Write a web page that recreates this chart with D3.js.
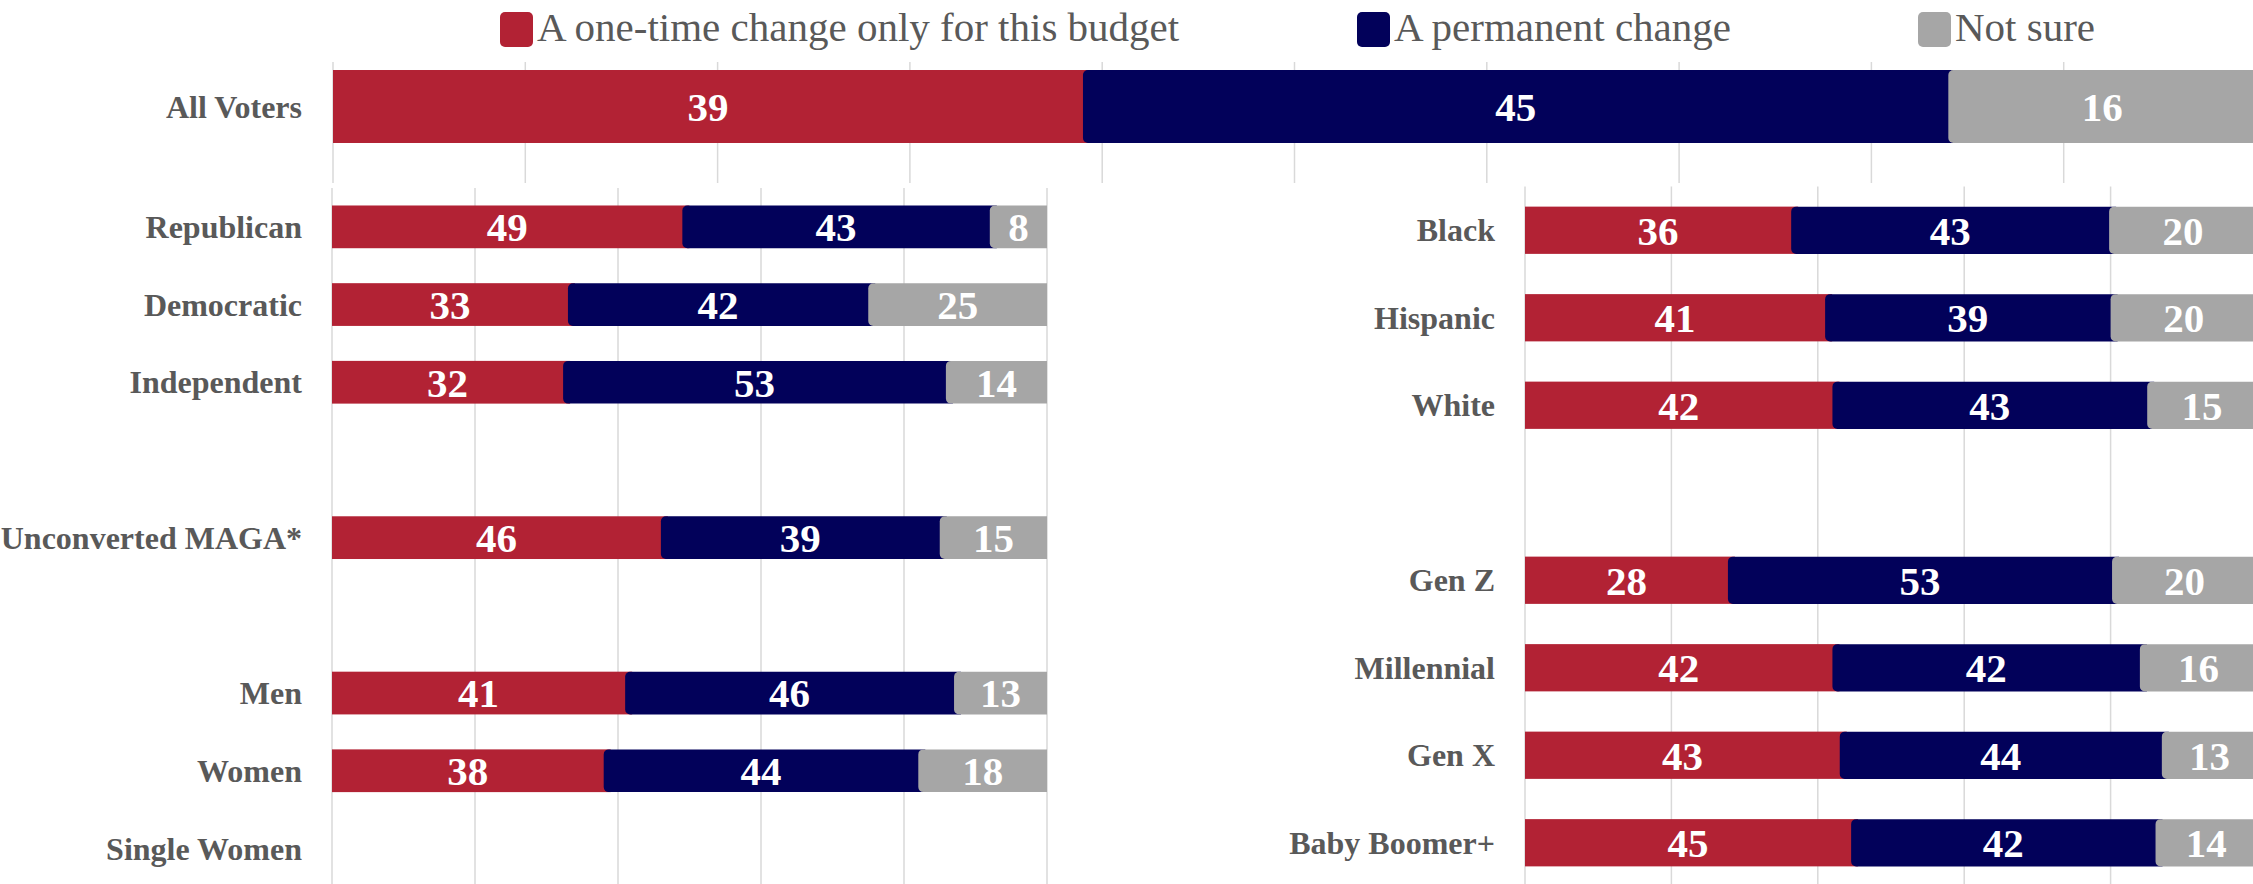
<!DOCTYPE html>
<html>
<head>
<meta charset="utf-8">
<script src="https://cdn.jsdelivr.net/npm/d3@7"></script>
<style>
  html, body { margin: 0; padding: 0; background: #ffffff; }
  svg { display: block; }
</style>
</head>
<body>
<svg id="chart" width="2253" height="884"></svg>
<script>
// ---------------- DATA ----------------
const seriesNames = ["A one-time change only for this budget", "A permanent change", "Not sure"];
const seriesColors = ["#B22234", "#02015A", "#A6A6A6"];

const topCategories = ["All Voters"];
const topOneTime   = [39];
const topPermanent = [45];
const topNotSure   = [16];

const leftCategories = ["Republican", "Democratic", "Independent", "", "Unconverted MAGA*", "", "Men", "Women", "Single Women"];
const leftOneTime    = [49, 33, 32, null, 46, null, 41, 38, null];
const leftPermanent  = [43, 42, 53, null, 39, null, 46, 44, null];
const leftNotSure    = [8, 25, 14, null, 15, null, 13, 18, null];

const rightCategories = ["Black", "Hispanic", "White", "", "Gen Z", "Millennial", "Gen X", "Baby Boomer+"];
const rightOneTime    = [36, 41, 42, null, 28, 42, 43, 45];
const rightPermanent  = [43, 39, 43, null, 53, 42, 44, 42];
const rightNotSure    = [20, 20, 15, null, 20, 16, 13, 14];

const topTicks  = [0, 10, 20, 30, 40, 50, 60, 70, 80, 90, 100];
const lowTicks  = [0, 20, 40, 60, 80, 100];

// ---------------- DRAW ----------------
const svg = d3.select("#chart");
const FONT = "'Liberation Serif', 'Times New Roman', serif";
const LABEL_COLOR = "#595959";
const GRID_COLOR = "#D9D9D9";
const R = 5;

function leftRoundedPath(x, y, w, h, r) {
  r = Math.min(r, w / 2, h / 2);
  return `M${x + r},${y}H${x + w}V${y + h}H${x + r}` +
         `A${r},${r} 0 0 1 ${x},${y + h - r}V${y + r}A${r},${r} 0 0 1 ${x + r},${y}Z`;
}

function panel(opts) {
  const { categories, s1, s2, s3, xRange, yRange, padInner, padOuter, ticks, gridY, labelGap } = opts;
  const x = d3.scaleLinear().domain([0, 100]).range(xRange);
  const y = d3.scaleBand().domain(d3.range(categories.length)).range(yRange)
              .paddingInner(padInner).paddingOuter(padOuter);
  const g = svg.append("g");

  // gridlines
  g.append("g").selectAll("line").data(ticks).join("line")
    .attr("x1", d => x(d)).attr("x2", d => x(d))
    .attr("y1", gridY[0]).attr("y2", gridY[1])
    .attr("stroke", GRID_COLOR).attr("stroke-width", 1.5);

  // category labels via axis
  const axis = d3.axisLeft(y).tickFormat(i => categories[i]).tickSize(0).tickPadding(0);
  const ax = g.append("g").attr("transform", `translate(${xRange[0] - labelGap},0)`).call(axis);
  ax.select(".domain").remove();
  ax.selectAll("text")
    .attr("font-family", FONT).attr("font-weight", "bold")
    .attr("font-size", 32).attr("fill", LABEL_COLOR).attr("dy", "0.35em");

  const series = [s1, s2, s3];
  const rows = categories.map((c, i) => ({ i, vals: series.map(s => s[i]) }))
                         .filter(r => r.vals[0] != null);
  rows.forEach(r => {
    // shares of the row total (rounded labels may not sum to exactly 100)
    const total = d3.sum(r.vals);
    let acc = 0;
    const segs = r.vals.map((v, k) => {
      const share = v / total * 100;
      const s = { k, v, start: acc, end: acc + share }; acc += share; return s;
    });
    const gy = y(r.i), h = y.bandwidth();
    const rg = g.append("g");
    segs.forEach((s, idx) => {
      const x0 = x(s.start);
      const hasNext = idx < segs.length - 1;
      const w = x(s.end) - x0 + (hasNext ? R + 2 : 0);
      if (s.k === 0) {
        rg.append("rect").attr("x", x0).attr("y", gy).attr("width", w).attr("height", h)
          .attr("fill", seriesColors[s.k]);
      } else {
        rg.append("path").attr("d", leftRoundedPath(x0, gy, w, h, R))
          .attr("fill", seriesColors[s.k]);
      }
    });
    segs.forEach(s => {
      rg.append("text")
        .attr("x", (x(s.start) + x(s.end)) / 2)
        .attr("y", gy + h / 2)
        .attr("dy", "0.35em")
        .attr("text-anchor", "middle")
        .attr("font-family", FONT).attr("font-weight", "bold")
        .attr("font-size", 41).attr("fill", "#ffffff")
        .text(s.v);
    });
  });
}

// Top panel: All Voters
panel({
  categories: topCategories, s1: topOneTime, s2: topPermanent, s3: topNotSure,
  xRange: [333, 2256], yRange: [62, 151], padInner: 0.18, padOuter: 0.09,
  ticks: topTicks, gridY: [62, 183], labelGap: 31
});

// Lower left panel
panel({
  categories: leftCategories, s1: leftOneTime, s2: leftPermanent, s3: leftNotSure,
  xRange: [332, 1047], yRange: [188, 887.3], padInner: 0.45, padOuter: 0.225,
  ticks: lowTicks, gridY: [188, 884], labelGap: 30
});

// Lower right panel
panel({
  categories: rightCategories, s1: rightOneTime, s2: rightPermanent, s3: rightNotSure,
  xRange: [1525, 2257], yRange: [186.5, 886.5], padInner: 0.46, padOuter: 0.23,
  ticks: lowTicks, gridY: [186.5, 884], labelGap: 30
});

// Legend
const legendX = [500, 1357, 1918];
const lg = svg.append("g");
seriesNames.forEach((name, i) => {
  lg.append("rect").attr("x", legendX[i]).attr("y", 12).attr("width", 33).attr("height", 35)
    .attr("rx", 5).attr("fill", seriesColors[i]);
  lg.append("text").attr("x", legendX[i] + 37).attr("y", 41)
    .attr("font-family", FONT).attr("font-size", 41).attr("fill", LABEL_COLOR)
    .text(name);
});
</script>
</body>
</html>
